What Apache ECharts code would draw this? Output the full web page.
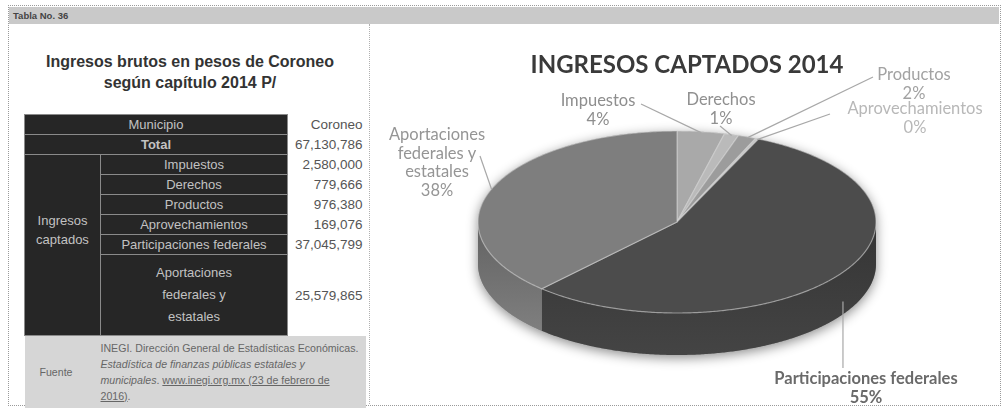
<!DOCTYPE html>
<html>
<head>
<meta charset="utf-8">
<script src="https://cdn.jsdelivr.net/npm/echarts@6/dist/echarts.min.js"></script>
<style>
  body { margin: 0; width: 1003px; height: 412px; overflow: hidden; background: #fff;
         font-family: "Liberation Sans", Arial, sans-serif; position: relative; }
  #frame { position: absolute; left: 8px; top: 5px; width: 991px; height: 399px;
           border: 1px dotted #9a9a9a; }
  #band { position: absolute; left: 9px; top: 7px; width: 990px; height: 17px; background: #c9c9c9; }
  #band span { position: absolute; left: 4px; top: 3px; font-size: 9.5px; font-weight: bold; color: #444; }
  #sep { position: absolute; left: 369px; top: 24px; height: 380px; border-left: 1px dotted #b0b0b0; }
  #ltitle { position: absolute; left: 14px; width: 352px; top: 51px; text-align: center;
            font-size: 16px; font-weight: bold; color: #333; line-height: 21px; }
  #tbl { position: absolute; left: 24px; top: 114px; border-collapse: collapse; table-layout: fixed; }
  #tbl td { padding: 0; font-size: 13px; line-height: 19px; height: 19px; white-space: nowrap; }
  #tbl td.dk { background: #262626; color: #c2c2c2; text-align: center; border: 1px solid #8a8a8a; }
  #tbl td.val { color: #555; text-align: right; padding-right: 3px; font-size: 13.5px; }
  #tbl td.src { background: #d6d6d6; color: #666; font-size: 10.6px; line-height: 16px; }
  #chart { position: absolute; left: 0; top: 0; width: 1003px; height: 412px; z-index: 5; }
</style>
</head>
<body>
<div id="frame"></div>
<div id="band"><span>Tabla No. 36</span></div>
<div id="sep"></div>
<div id="ltitle">Ingresos brutos en pesos de Coroneo<br>según capítulo 2014 P/</div>
<table id="tbl"></table>
<div id="chart"></div>
<script>
// datos de la tabla y del pastel
const municipio = 'Coroneo';
const totalIngresos = 67130786;
const categories = ['Impuestos', 'Derechos', 'Productos', 'Aprovechamientos',
                    'Participaciones federales', 'Aportaciones federales y estatales'];
const values = [2580000, 779666, 976380, 169076, 37045799, 25579865];
const percentLabels = ['4%', '1%', '2%', '0%', '55%', '38%'];
const pieLabels = [['Impuestos'], ['Derechos'], ['Productos'], ['Aprovechamientos'],
                   ['Participaciones federales'], ['Aportaciones', 'federales y', 'estatales']];

const fmt = n => n.toLocaleString('en-US');

// tabla izquierda
function buildTable() {
  let h = '<colgroup><col style="width:76px"><col style="width:187px"><col style="width:78px"></colgroup>';
  h += '<tr><td class="dk" colspan="2">Municipio</td><td class="val">' + municipio + '</td></tr>';
  h += '<tr><td class="dk" colspan="2" style="font-weight:bold">Total</td><td class="val">' + fmt(totalIngresos) + '</td></tr>';
  categories.forEach((c, i) => {
    h += '<tr>';
    if (i === 0) {
      h += '<td class="dk" rowspan="' + categories.length + '" style="vertical-align:top;padding-top:56px;line-height:19px">Ingresos<br>captados</td>';
    }
    if (i === categories.length - 1) {
      h += '<td class="dk" style="height:80px;line-height:22px;white-space:normal">Aportaciones<br>federales y<br>estatales</td>';
    } else {
      h += '<td class="dk">' + c + '</td>';
    }
    h += '<td class="val">' + fmt(values[i]) + '</td></tr>';
  });
  h += '<tr><td class="src" style="height:72px;padding-left:15px">Fuente</td>' +
       '<td class="src" colspan="2" style="padding:2px 0 2px 0;white-space:nowrap">' +
       'INEGI. Dirección General de Estadísticas Económicas.<br>' +
       '<i>Estadística de finanzas públicas estatales y<br>municipales</i>. ' +
       '<u>www.inegi.org.mx (23 de febrero de<br>2016)</u>.</td></tr>';
  document.getElementById('tbl').innerHTML = h;
}
buildTable();

// pastel 3D (custom series)
const CX = 677, CY = 222, RX = 199, RY = 91, H = 42;
const START = 0;
const sum = values.reduce((a, b) => a + b, 0);
const starts = [];
values.reduce((acc, v) => { starts.push(acc); return acc + v / sum * 360; }, START);

const topColors = ['#a9a9a9', '#bababa', '#9c9c9c', '#c6c6c6', '#4c4c4c', '#7e7e7e'];
const sideColors = ['#8a8a8a', '#9a9a9a', '#808080', '#aaaaaa', '#353535', '#626262'];
const labelColors = ['#8e8e8e', '#909090', '#a2a2a2', '#b8b8b8', '#6a6a6a', '#959595'];
// posiciones de etiquetas (centro del texto) y punto de arranque de la línea guía
const labelLayout = [
  { x: 598, y: 101, ax: 641, ay: 104 },
  { x: 721, y: 100, ax: 720, ay: 126 },
  { x: 914, y: 75, ax: 873, ay: 77 },
  { x: 915, y: 109, ax: 830, ay: 114 },
  { x: 866, y: 379, ax: 856, ay: 368 },
  { x: 437, y: 135, ax: 480, ay: 156 }
];

function pt(a, dy) {
  const r = a * Math.PI / 180;
  return [CX + RX * Math.sin(r), CY - RY * Math.cos(r) + dy];
}

function renderItem(params, api) {
  const i = params.dataIndex;
  const a1 = starts[i];
  const a2 = a1 + api.value(0) / sum * 360;
  const children = [];

  if (i === 0) {
    const sil = [];
    for (let a = 0; a <= 360; a += 2) sil.push(pt(a, Math.cos(a * Math.PI / 180) < 0 ? H : 0));
    children.push({ type: 'polygon', shape: { points: sil }, z2: 0,
      style: { fill: '#888', shadowBlur: 12, shadowColor: 'rgba(0,0,0,0.45)', shadowOffsetY: 3 } });
  }

  const top = [[CX, CY]];
  for (let a = a1; a < a2; a += 0.5) top.push(pt(a, 0));
  top.push(pt(a2, 0));
  children.push({ type: 'polygon', shape: { points: top }, z2: 10,
    style: { fill: topColors[i], stroke: 'rgba(215,215,215,0.55)', lineWidth: 1.2 } });

  const s = Math.max(a1, 90), e = Math.min(a2, 270);
  if (e > s) {
    const side = [];
    for (let a = s; a < e; a += 0.5) side.push(pt(a, 0));
    side.push(pt(e, 0));
    for (let a = e; a > s; a -= 0.5) side.push(pt(a, H));
    side.push(pt(s, H));
    children.push({ type: 'polygon', shape: { points: side }, z2: 5,
      style: { fill: { type: 'linear', x: 0, y: 0, x2: 0, y2: 1,
        colorStops: [{ offset: 0, color: sideColors[i] }, { offset: 1, color: echarts.color.lift(sideColors[i], -0.3) }] } } });
  }

  const L = labelLayout[i];
  const mid = (a1 + a2) / 2;
  const front = mid > 90 && mid < 270;
  const end = front ? pt(mid, H * 0.7) : pt(mid, 1);
  const start = front && i === 4 ? [end[0], L.ay] : [L.ax, L.ay];
  children.push({ type: 'polyline', shape: { points: [start, end] }, z2: 20,
    style: { stroke: '#a8a8a8', lineWidth: 1.2, fill: null } });

  const lines = pieLabels[i].concat([percentLabels[i]]);
  const bold = i === 4;
  lines.forEach((t, k) => {
    children.push({ type: 'text', z2: 20, style: {
      text: t, x: L.x, y: L.y + k * 18.5, align: 'center', verticalAlign: 'middle',
      fill: labelColors[i], font: (bold ? 'bold ' : '') + '16.5px Lato, "Open Sans", sans-serif' } });
  });

  return { type: 'group', children };
}

const chart = echarts.init(document.getElementById('chart'));
chart.setOption({
  backgroundColor: 'transparent',
  animation: false,
  title: {
    text: 'INGRESOS CAPTADOS 2014', left: 682, top: 48, textAlign: 'center',
    textStyle: { fontFamily: 'Lato', fontWeight: 'bold', fontSize: 24, color: '#3a3a3a' }
  },
  series: [{
    type: 'custom',
    coordinateSystem: 'none',
    renderItem: renderItem,
    data: values.map((v, i) => ({ name: categories[i], value: [v] }))
  }]
});
</script>
</body>
</html>
